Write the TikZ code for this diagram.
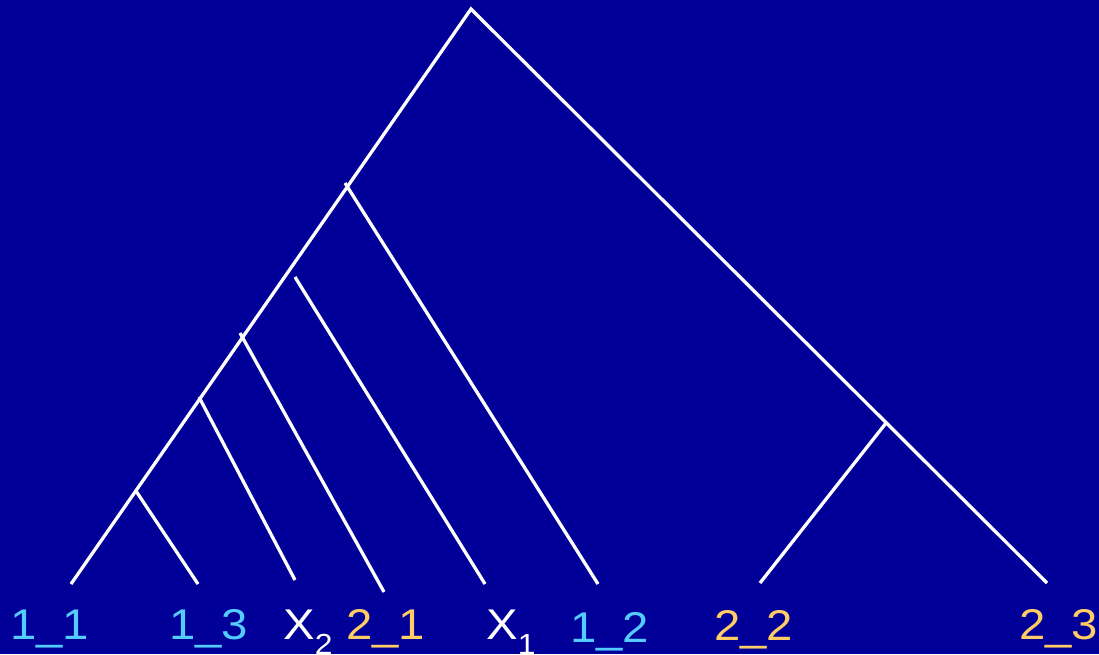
\documentclass[tikz,border=0pt]{standalone}
\usepackage{fontspec}
\setmainfont{Liberation Sans}
\newfontfamily\labfont[FakeStretch=1.1]{Liberation Sans}
\definecolor{bg}{HTML}{000099}
\definecolor{lblue}{HTML}{55CCFF}
\definecolor{lorange}{HTML}{FFCC66}
\newcommand{\subsc}[1]{\raisebox{-15pt}{\fontsize{29}{29}\selectfont #1}}
\begin{document}
\begin{tikzpicture}[x=1pt,y=-1pt,
  branch/.style={draw=white,line width=3.3pt},
  lab/.style={anchor=base west,inner sep=0pt,font=\labfont\fontsize{43}{50}\selectfont},
  blab/.style={lab,text=lblue},
  olab/.style={lab,text=lorange},
  wlab/.style={lab,text=white}]
\fill[bg] (0,0) rectangle (1099,654);
\useasboundingbox (0,0) rectangle (1099,654);
% tree points
\coordinate (root) at (471,9);
\coordinate (l11) at (71,584);
\coordinate (l23) at (1047,583);
\coordinate (b1) at (345,183);  \coordinate (l12) at (598,584);
\coordinate (b2) at (295,277);  \coordinate (lx1) at (485,584);
\coordinate (b3) at (240,333);  \coordinate (l21) at (384,592);
\coordinate (b4) at (199,397);  \coordinate (lx2) at (295,580);
\coordinate (b5) at (136,491);  \coordinate (l13) at (198,584);
\coordinate (b6) at (886,423);  \coordinate (l22) at (760,583);
\draw[branch] (l11) -- (root) -- (l23);
\draw[branch] (b1) -- (l12);
\draw[branch] (b2) -- (lx1);
\draw[branch] (b3) -- (l21);
\draw[branch] (b4) -- (lx2);
\draw[branch] (b5) -- (l13);
\draw[branch] (b6) -- (l22);
% labels
\node[blab] (t11) at (10,639) {1\_1};
\node[blab] (t13) at (169,639) {1\_3};
\node[wlab] (tx2) at (283,639) {X\subsc{2}};
\node[olab] (t21) at (346,639) {2\_1};
\node[wlab] (tx1) at (486,639) {X\subsc{1}};
\node[blab] (t12) at (570,642) {1\_2};
\node[olab] (t22) at (714,640) {2\_2};
\node[olab] (t23) at (1019,639) {2\_3};
\end{tikzpicture}
\end{document}
